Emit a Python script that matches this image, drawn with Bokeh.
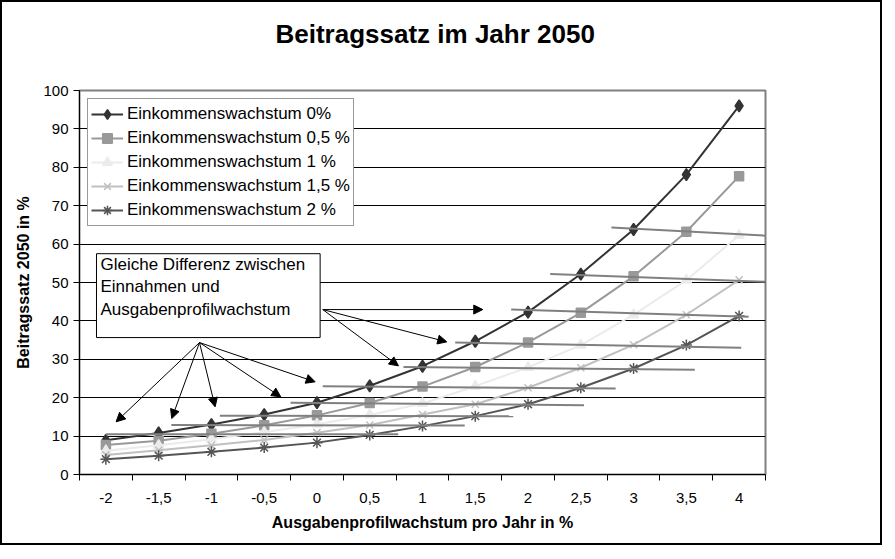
from bokeh.plotting import figure
from bokeh.models import (FixedTicker, BoxAnnotation, Label, Arrow, NormalHead,
                          ColumnDataSource, Title)
from bokeh.embed import file_html
from bokeh.resources import INLINE

# ---------------- data ----------------
title_text = "Beitragssatz im Jahr 2050"
x_vals = [-2, -1.5, -1, -0.5, 0, 0.5, 1, 1.5, 2, 2.5, 3, 3.5, 4]
x_labels = ["-2", "-1,5", "-1", "-0,5", "0", "0,5", "1", "1,5", "2", "2,5", "3", "3,5", "4"]
y_ticks = [0, 10, 20, 30, 40, 50, 60, 70, 80, 90, 100]

names = ["Einkommenswachstum 0%", "Einkommenswachstum 0,5 %", "Einkommenswachstum 1 %",
         "Einkommenswachstum 1,5 %", "Einkommenswachstum 2 %"]
s_0 = [8.9, 10.8, 13.0, 15.6, 18.7, 23.1, 28.2, 34.7, 42.3, 52.2, 63.8, 78.1, 96.0]
s_05 = [7.7, 8.8, 10.6, 12.8, 15.4, 18.6, 22.9, 28.0, 34.4, 42.1, 51.6, 63.2, 77.7]
s_1 = [6.2, 7.6, 9.2, 11.0, 13.1, 15.5, 18.5, 23.0, 27.9, 33.7, 41.6, 50.6, 62.3]
s_15 = [5.1, 6.3, 7.6, 9.0, 10.9, 12.9, 15.6, 18.3, 22.6, 27.8, 33.8, 41.6, 50.7]
s_2 = [4.0, 4.9, 5.9, 7.0, 8.3, 10.3, 12.6, 15.2, 18.3, 22.6, 27.6, 33.7, 41.3]

# lines of equal difference (hand-drawn annotation lines)
diff_x0 = [2.79, 2.21, 1.84, 1.31, 0.82, 0.055, -0.25, -0.92, -1.38, -2.0]
diff_y0 = [64.3, 52.2, 42.95, 34.4, 28.0, 23.0, 18.7, 15.3, 12.9, 10.5]
diff_x1 = [4.25, 4.25, 4.09, 4.02, 3.58, 2.83, 2.53, 1.86, 1.40, 0.77]
diff_y1 = [62.2, 50.2, 41.05, 33.0, 27.3, 22.4, 18.05, 15.2, 12.75, 10.5]

# annotation box + arrows
note_text = "Gleiche Differenz zwischen\nEinnahmen und\nAusgabenprofilwachstum"
note_left, note_right, note_top, note_bottom = -2.089, 0.030, 57.5, 35.66
arr_x0 = [-1.113, -1.113, -1.113, -1.113, -1.113, 0.055, 0.055, 0.055]
arr_y0 = [34.36, 34.36, 34.36, 34.36, 34.36, 42.95, 42.95, 42.95]
arr_x1 = [-1.903, -1.376, -0.965, -0.343, -0.017, 1.571, 1.230, 0.772]
arr_y1 = [13.72, 14.58, 17.62, 20.22, 24.13, 42.95, 34.54, 28.29]

# ---------------- styles ----------------
FONT = "Liberation Sans"
series = [s_0, s_05, s_1, s_15, s_2]
line_colors = ["#333333", "#999999", "#ebebeb", "#c0c0c0", "#555555"]
markers = ["diamond", "square", "triangle", "x", "asterisk"]
msizes = [12, 9, 10, 10, 11]

p = figure(width=882, height=545, output_backend="svg", toolbar_location=None,
           x_range=(-2.25, 4.25), y_range=(0, 100),
           min_border_left=77, min_border_right=119, min_border_top=88,
           min_border_bottom=73)
p.styles = {"border": "2px solid black"}
p.background_fill_color = "white"
p.border_fill_color = "white"
p.outline_line_color = "#808080"
p.outline_line_width = 2

# title: a thin spacer next to the plot area, then the real title above it
p.title.visible = False
p.add_layout(Title(text=" ", text_font_size="1px", standoff=37, vertical_align="top"), "above")
p.add_layout(Title(text=title_text, align="left", offset=196, vertical_align="top", standoff=0,
                   text_font=FONT, text_font_size="26px", text_font_style="bold",
                   text_color="black"), "above")

# grid
p.xgrid.visible = False
p.ygrid.ticker = FixedTicker(ticks=y_ticks[1:-1])
p.ygrid.grid_line_color = "black"
p.ygrid.grid_line_width = 1

# x axis
p.xaxis.ticker = FixedTicker(ticks=x_vals,
                             minor_ticks=[v - 0.25 for v in x_vals] + [x_vals[-1] + 0.25])
p.xaxis.major_label_overrides = {float(v): lab for v, lab in zip(x_vals, x_labels)}
p.xaxis.major_tick_line_color = None
p.xaxis.major_tick_out = 0
p.xaxis.major_tick_in = 0
p.xaxis.minor_tick_line_color = "black"
p.xaxis.minor_tick_out = 6
p.xaxis.minor_tick_in = 0
p.xaxis.major_label_standoff = 12
p.xaxis.axis_label = "Ausgabenprofilwachstum pro Jahr in %"
p.xaxis.axis_label_standoff = 8

# y axis
p.yaxis.ticker = FixedTicker(ticks=y_ticks)
p.yaxis.minor_tick_line_color = None
p.yaxis.major_tick_out = 6
p.yaxis.major_tick_in = 0
p.yaxis.major_label_standoff = 5
p.yaxis.axis_label = "Beitragssatz 2050 in %"
p.yaxis.axis_label_standoff = 8

for ax in (p.xaxis, p.yaxis):
    ax.axis_line_color = "black"
    ax.axis_line_width = 1
    ax.major_tick_line_width = 1
    ax.major_label_text_font = FONT
    ax.major_label_text_font_size = "15px"
    ax.major_label_text_color = "black"
    ax.axis_label_text_font = FONT
    ax.axis_label_text_font_size = "16px"
    ax.axis_label_text_font_style = "bold"
    ax.axis_label_text_color = "black"

# series
for vals, name, col, mk, ms in zip(series, names, line_colors, markers, msizes):
    src = ColumnDataSource(dict(x=x_vals, y=vals))
    p.line("x", "y", source=src, line_color=col, line_width=2, legend_label=name)
    p.scatter("x", "y", source=src, marker=mk, size=ms, fill_color=col,
              line_color=col, line_width=1.5, legend_label=name)

# equal-difference lines
p.segment(x0="x0", y0="y0", x1="x1", y1="y1",
          source=ColumnDataSource(dict(x0=diff_x0, y0=diff_y0, x1=diff_x1, y1=diff_y1)),
          line_color="#808080", line_width=2)

# legend
lg = p.legend[0]
lg.location = "top_left"
lg.margin = 8
lg.padding = 3
lg.spacing = 0
lg.label_height = 24
lg.glyph_height = 24
lg.glyph_width = 32
lg.label_standoff = 4
lg.label_text_font = FONT
lg.label_text_font_size = "17px"
lg.label_text_color = "black"
lg.border_line_color = "#333333"
lg.border_line_width = 1
lg.background_fill_alpha = 1

# note box, text and arrows
p.add_layout(BoxAnnotation(left=note_left, right=note_right, top=note_top, bottom=note_bottom,
                           fill_color="white", fill_alpha=1, line_color="black",
                           line_width=1, line_alpha=1))
p.add_layout(Label(x=note_left, y=note_top, text=note_text, x_offset=4, y_offset=-1,
                   text_baseline="top", text_align="left", text_font=FONT,
                   text_font_size="17px", text_color="black"))
p.add_layout(Arrow(end=NormalHead(size=9, fill_color="black", line_color="black"),
                   x_start="x0", y_start="y0", x_end="x1", y_end="y1",
                   source=ColumnDataSource(dict(x0=arr_x0, y0=arr_y0, x1=arr_x1, y1=arr_y1)),
                   line_color="black", line_width=1))

open("out.html", "w").write(file_html(p, INLINE))
